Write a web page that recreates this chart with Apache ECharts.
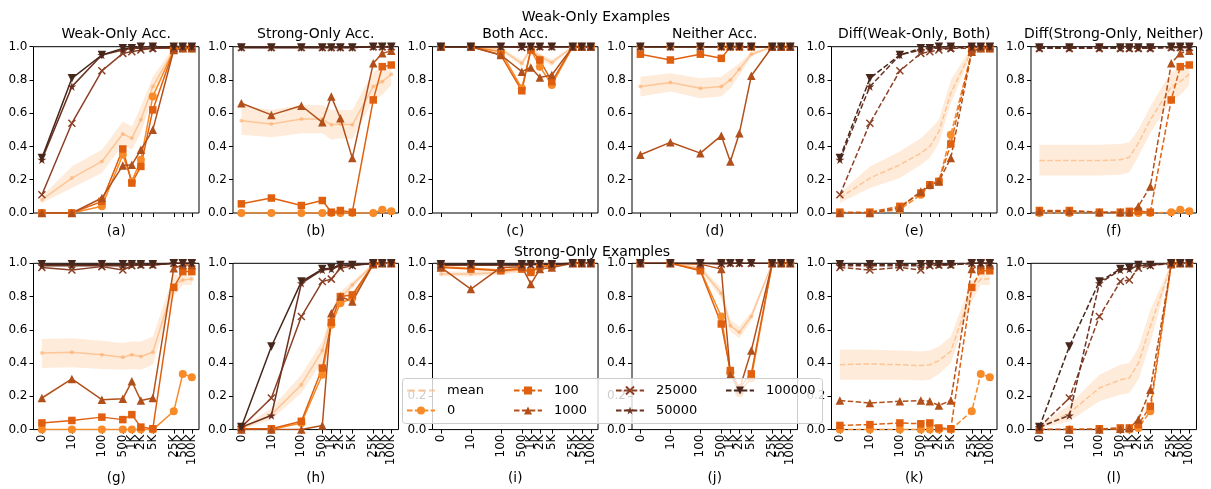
<!DOCTYPE html>
<html><head><meta charset="utf-8">
<script src="https://cdn.jsdelivr.net/npm/echarts@6/dist/echarts.min.js"></script>
<style>html,body{margin:0;padding:0;background:#fff}#c{width:1211px;height:489px}</style>
</head><body><div id="c"></div>
<script>
// ---- categories / labels ----
const steps = [0,10,100,500,1000,2000,5000,25000,50000,100000];
const stepLabels = ['0','10','100','500','1K','2K','5K','25K','50K','100K'];
const seriesNames = ['0','100','1000','25000','50000','100000'];
const colTitles = ['Weak-Only Acc.','Strong-Only Acc.','Both Acc.','Neither Acc.','Diff(Weak-Only, Both)','Diff(Strong-Only, Neither)'];
const rowTitles = ['Weak-Only Examples','Strong-Only Examples'];
const panelLabels = ['(a)','(b)','(c)','(d)','(e)','(f)','(g)','(h)','(i)','(j)','(k)','(l)'];
const yTicks = [0,0.2,0.4,0.6,0.8,1.0];

// ---- panel (a) ----
const a_mean = [0.08,0.21,0.31,0.475,0.45,0.56,0.76,0.98,0.99,0.99];
const a_lo   = [0.06,0.15,0.24,0.41,0.38,0.48,0.70,0.96,0.98,0.98];
const a_hi   = [0.10,0.28,0.38,0.55,0.52,0.64,0.82,1.0,1.0,1.0];
const a_0    = [0,0,0.04,0.35,0.19,0.32,0.70,0.98,0.99,0.99];
const a_100  = [0,0,0.07,0.385,0.18,0.28,0.62,0.98,0.99,0.99];
const a_1000 = [0,0,0.09,0.285,0.29,0.38,0.50,0.98,0.99,0.99];
const a_25000 = [0.11,0.54,0.855,0.96,0.97,0.98,0.99,0.99,1,1];
const a_50000 = [0.32,0.76,0.95,0.98,0.99,0.99,0.99,1,1,1];
const a_100000 = [0.33,0.81,0.95,0.99,0.99,1,1,1,1,1];
// ---- panel (b) ----
const b_mean = [0.555,0.535,0.565,0.565,0.53,0.535,0.53,0.76,0.79,0.835];
const b_lo   = [0.47,0.455,0.48,0.48,0.44,0.45,0.445,0.68,0.71,0.77];
const b_hi   = [0.645,0.62,0.65,0.65,0.62,0.62,0.62,0.85,0.87,0.89];
const b_0    = [0,0,0,0,0,0,0,0,0.02,0.01];
const b_100  = [0.055,0.09,0.045,0.075,0.005,0.015,0.005,0.68,0.88,0.89];
const b_1000 = [0.66,0.59,0.645,0.545,0.70,0.57,0.33,0.90,0.96,0.975];
const b_25000 = [0.995,0.995,0.995,0.995,0.995,0.995,0.995,1,1,1];
const b_50000 = [0.995,0.995,0.995,0.995,0.995,0.995,0.995,1,1,1];
const b_100000 = [0.995,0.995,0.995,0.995,0.995,0.995,0.995,1,1,1];
// ---- panel (c) ----
const c_mean = [1,1,0.985,0.90,0.985,0.94,0.905,1,1,1];
const c_lo   = [0.995,0.995,0.975,0.88,0.975,0.92,0.885,0.995,0.995,0.995];
const c_hi   = [1,1,0.995,0.92,0.995,0.96,0.925,1,1,1];
const c_0    = [1,1,0.97,0.75,0.98,0.88,0.77,1,1,1];
const c_100  = [1,1,0.95,0.735,0.98,0.92,0.79,1,1,1];
const c_1000 = [1,1,0.95,0.85,0.875,0.815,0.83,1,1,1];
const c_25000 = [1,1,1,0.995,1,1,1,1,1,1];
const c_50000 = [1,1,1,1,1,1,1,1,1,1];
const c_100000 = [1,1,1,1,1,1,1,1,1,1];
// ---- panel (d) ----
const d_mean = [0.76,0.785,0.75,0.76,0.80,0.865,0.955,1,1,1];
const d_lo   = [0.70,0.73,0.69,0.70,0.75,0.83,0.94,0.995,0.995,0.995];
const d_hi   = [0.82,0.84,0.81,0.82,0.86,0.90,0.97,1,1,1];
const d_0    = [1,1,1,1,1,1,1,1,1,1];
const d_100  = [0.955,0.92,0.955,0.93,1,1,1,1,1,1];
const d_1000 = [0.35,0.425,0.36,0.465,0.31,0.48,0.825,1,1,1];
const d_25000 = [1,1,1,1,1,1,1,1,1,1];
const d_50000 = [1,1,1,1,1,1,1,1,1,1];
const d_100000 = [1,1,1,1,1,1,1,1,1,1];
// ---- panel (e) ----
const e_mean = [0.09,0.21,0.29,0.36,0.40,0.49,0.72,0.98,0.99,0.99];
const e_lo   = [0.06,0.15,0.21,0.29,0.33,0.42,0.66,0.96,0.98,0.98];
const e_hi   = [0.12,0.28,0.37,0.45,0.50,0.56,0.80,1,1,1];
const e_0    = [0,0,0.02,0.11,0.165,0.19,0.47,0.97,0.99,0.99];
const e_100  = [0.005,0.005,0.04,0.12,0.17,0.19,0.415,0.975,0.99,0.99];
const e_1000 = [0,0,0.03,0.13,0.17,0.19,0.33,0.97,0.99,0.99];
const e_25000 = [0.11,0.54,0.855,0.96,0.97,0.98,0.99,0.99,1,1];
const e_50000 = [0.32,0.76,0.95,0.98,0.99,0.99,0.99,1,1,1];
const e_100000 = [0.33,0.81,0.95,0.99,0.99,1,1,1,1,1];
// ---- panel (f) ----
const f_mean = [0.315,0.315,0.315,0.32,0.335,0.42,0.56,0.76,0.79,0.835];
const f_lo   = [0.225,0.225,0.225,0.23,0.245,0.34,0.48,0.68,0.71,0.77];
const f_hi   = [0.41,0.41,0.41,0.415,0.425,0.50,0.64,0.85,0.87,0.89];
const f_0    = [0,0,0,0,0,0,0,0.005,0.02,0.01];
const f_100  = [0.015,0.015,0.005,0.005,0.01,0.01,0.005,0.68,0.88,0.89];
const f_1000 = [0.01,0.01,0.005,0.005,0.005,0.04,0.16,0.90,0.96,0.975];
const f_25000 = [0.99,0.99,0.99,0.99,0.99,0.99,0.99,0.995,0.995,0.995];
const f_50000 = [0.99,0.99,0.99,0.99,0.99,0.99,0.99,0.995,0.995,0.995];
const f_100000 = [0.995,0.995,0.995,0.995,0.995,0.995,0.995,1,1,1];
// ---- panel (g) ----
const g_mean = [0.46,0.465,0.45,0.435,0.45,0.44,0.465,0.87,0.90,0.905];
const g_lo   = [0.37,0.375,0.365,0.36,0.365,0.36,0.39,0.80,0.87,0.87];
const g_hi   = [0.545,0.55,0.535,0.52,0.53,0.53,0.56,0.93,0.93,0.935];
const g_0    = [0,0,0,0,0,0,0,0.11,0.335,0.315];
const g_100  = [0.04,0.055,0.075,0.06,0.09,0.015,0.005,0.855,0.95,0.95];
const g_1000 = [0.19,0.305,0.18,0.185,0.29,0.175,0.19,0.97,0.99,0.99];
const g_25000 = [0.975,0.96,0.98,0.96,0.985,0.99,0.99,1,1,1];
const g_50000 = [0.985,0.985,0.985,0.985,0.99,0.99,0.99,1,1,1];
const g_100000 = [0.995,0.995,0.995,0.995,0.995,0.995,0.995,1,1,1];
// ---- panel (h) ----
const h_mean = [0.005,0.09,0.27,0.475,0.67,0.79,0.87,0.995,1,1];
const h_lo   = [0,0.06,0.22,0.41,0.63,0.76,0.85,0.99,0.995,0.995];
const h_hi   = [0.01,0.13,0.33,0.53,0.71,0.83,0.89,1,1,1];
const h_0    = [0,0,0.04,0.33,0.63,0.76,0.79,0.995,1,1];
const h_100  = [0.005,0.005,0.05,0.37,0.645,0.80,0.81,0.995,1,1];
const h_1000 = [0,0,0,0.025,0.70,0.80,0.77,0.995,1,1];
const h_25000 = [0.015,0.19,0.68,0.89,0.905,0.97,0.985,1,1,1];
const h_50000 = [0.015,0.085,0.88,0.96,0.965,0.985,0.99,1,1,1];
const h_100000 = [0.015,0.50,0.89,0.965,0.97,0.99,0.99,1,1,1];
// ---- panel (i) ----
const i_mean = [0.935,0.935,0.945,0.96,0.955,0.975,0.98,1,1,1];
const i_lo   = [0.92,0.92,0.93,0.945,0.94,0.965,0.97,0.995,0.995,0.995];
const i_hi   = [0.95,0.95,0.96,0.975,0.97,0.985,0.99,1,1,1];
const i_0    = [0.98,0.97,0.96,0.97,0.95,0.98,0.99,1,1,1];
const i_100  = [0.975,0.965,0.955,0.965,0.945,0.98,0.985,1,1,1];
const i_1000 = [0.975,0.845,0.975,0.98,0.875,0.965,0.975,1,1,1];
const i_25000 = [0.99,0.99,0.99,0.99,0.99,0.995,0.995,1,1,1];
const i_50000 = [0.99,0.99,0.99,0.99,0.995,0.995,0.995,1,1,1];
const i_100000 = [0.995,0.995,0.995,0.995,0.995,0.995,0.995,1,1,1];
// ---- panel (j) ----
const j_mean = [1,1,0.97,0.82,0.625,0.585,0.68,1,1,1];
const j_lo   = [0.995,0.995,0.955,0.79,0.59,0.55,0.655,0.995,0.995,0.995];
const j_hi   = [1,1,0.985,0.85,0.66,0.62,0.705,1,1,1];
const j_0    = [1,1,0.96,0.68,0.34,0.22,0.31,1,1,1];
const j_100  = [1,1,0.955,0.635,0.355,0.25,0.335,1,1,1];
const j_1000 = [1,1,0.995,0.965,0.33,0.24,0.475,1,1,1];
const j_25000 = [1,1,1,0.995,1,1,1,1,1,1];
const j_50000 = [1,1,1,1,1,1,1,1,1,1];
const j_100000 = [1,1,1,1,1,1,1,1,1,1];
// ---- panel (k) ----
const k_mean = [0.39,0.395,0.39,0.385,0.39,0.415,0.47,0.84,0.905,0.905];
const k_lo   = [0.30,0.30,0.30,0.295,0.30,0.335,0.40,0.77,0.87,0.87];
const k_hi   = [0.48,0.48,0.475,0.47,0.475,0.50,0.56,0.90,0.93,0.935];
const k_0    = [0,0,0,0,0,0,0,0.11,0.335,0.315];
const k_100  = [0.025,0.03,0.04,0.035,0.04,0.01,0.005,0.855,0.955,0.955];
const k_1000 = [0.175,0.16,0.17,0.175,0.17,0.145,0.175,0.965,0.99,0.99];
const k_25000 = [0.975,0.96,0.975,0.96,0.985,0.99,0.99,1,1,1];
const k_50000 = [0.985,0.985,0.985,0.985,0.99,0.99,0.99,1,1,1];
const k_100000 = [0.995,0.995,0.995,0.995,0.995,0.995,0.995,1,1,1];
// ---- panel (l) ----
const l_mean = [0.01,0.10,0.25,0.30,0.31,0.40,0.62,0.99,1,1];
const l_lo   = [0.005,0.05,0.17,0.21,0.22,0.30,0.52,0.985,0.995,0.995];
const l_hi   = [0.02,0.15,0.33,0.39,0.40,0.49,0.72,1,1,1];
const l_0    = [0,0,0,0,0,0.01,0.11,0.995,1,1];
const l_100  = [0,0,0.005,0.01,0.01,0.03,0.14,0.995,1,1];
const l_1000 = [0,0,0,0.005,0.01,0.06,0.24,0.995,1,1];
const l_25000 = [0.015,0.19,0.68,0.89,0.90,0.97,0.985,1,1,1];
const l_50000 = [0.015,0.085,0.88,0.96,0.965,0.985,0.99,1,1,1];
const l_100000 = [0.015,0.50,0.89,0.965,0.97,0.99,0.99,1,1,1];

const panels = [
  {mean:a_mean, lo:a_lo, hi:a_hi, vals:[a_0,a_100,a_1000,a_25000,a_50000,a_100000]},
  {mean:b_mean, lo:b_lo, hi:b_hi, vals:[b_0,b_100,b_1000,b_25000,b_50000,b_100000]},
  {mean:c_mean, lo:c_lo, hi:c_hi, vals:[c_0,c_100,c_1000,c_25000,c_50000,c_100000]},
  {mean:d_mean, lo:d_lo, hi:d_hi, vals:[d_0,d_100,d_1000,d_25000,d_50000,d_100000]},
  {mean:e_mean, lo:e_lo, hi:e_hi, vals:[e_0,e_100,e_1000,e_25000,e_50000,e_100000]},
  {mean:f_mean, lo:f_lo, hi:f_hi, vals:[f_0,f_100,f_1000,f_25000,f_50000,f_100000]},
  {mean:g_mean, lo:g_lo, hi:g_hi, vals:[g_0,g_100,g_1000,g_25000,g_50000,g_100000]},
  {mean:h_mean, lo:h_lo, hi:h_hi, vals:[h_0,h_100,h_1000,h_25000,h_50000,h_100000]},
  {mean:i_mean, lo:i_lo, hi:i_hi, vals:[i_0,i_100,i_1000,i_25000,i_50000,i_100000]},
  {mean:j_mean, lo:j_lo, hi:j_hi, vals:[j_0,j_100,j_1000,j_25000,j_50000,j_100000]},
  {mean:k_mean, lo:k_lo, hi:k_hi, vals:[k_0,k_100,k_1000,k_25000,k_50000,k_100000]},
  {mean:l_mean, lo:l_lo, hi:l_hi, vals:[l_0,l_100,l_1000,l_25000,l_50000,l_100000]}
];

// ---- styles ----
const FONT = 'DejaVu Sans';
const meanColor = 'rgba(253,174,107,0.6)';
const bandColor = 'rgba(253,174,107,0.25)';
const colors = {'0':'#f88a27','100':'#e0600f','1000':'#b2501b','25000':'#8b4127','50000':'#6b3221','100000':'#47271c'};
const starPath = 'path://M50,0L61.2,34.6L97.6,34.6L68.1,55.9L79.4,90.5L50,69L20.6,90.5L31.9,55.9L2.4,34.6L38.8,34.6Z';
const symbols = {'0':'circle','100':'rect','1000':'triangle','25000':'path://M0,0L10,10M0,10L10,0','50000':starPath,'100000':'triangle'};
const symSizes = {'0':8,'100':7.5,'1000':8.5,'25000':7,'50000':9,'100000':8.5};
const symRot = {'0':0,'100':0,'1000':0,'25000':0,'50000':0,'100000':180};
const dashPattern = [5.5,2.4];
const meanLegendIcon = 'path://M0,4h8v2h-8zM11,4h8v2h-8zM22,4h6v2h-6z';

const xpos = steps.map(s => Math.log10(Math.max(s,1)));
function labelFor(v){
  for (let i=0;i<xpos.length;i++) if (Math.abs(xpos[i]-v) < 1e-6) return stepLabels[i];
  return '';
}
// labels split over two axes so the library's max-label overlap rule keeps them all
const labelPosA = xpos.filter((v,i) => i !== 8);
const labelPosB = [xpos[8]];
const GL = 33.5, GSTEP = 199.5, GW = 165.5, GH = 166.3;
const rowTop = [46.7, 263.3];
const XMIN = -0.28, XMAX = 5.24;

const grids = [], xAxes = [], extraX = [], yAxes = [], series = [], graphics = [];
function xLabelStyle(vals){
  return {show:true, customValues:vals, rotate:90, margin:5, fontSize:12, color:'#000', fontFamily:FONT,
    showMaxLabel:true, showMinLabel:true, hideOverlap:false, formatter:labelFor};
}
for (let gi=0; gi<12; gi++){
  const row = Math.floor(gi/6), col = gi%6;
  grids.push({left: GL + col*GSTEP, top: rowTop[row], width: GW, height: GH,
    show:true, borderColor:'#000', borderWidth:1, backgroundColor:'transparent', containLabel:false});
  const xl = xLabelStyle(labelPosA); xl.show = row===1;
  xAxes.push({type:'value', gridIndex:gi, position:'bottom', min:XMIN, max:XMAX,
    axisLine:{show:false,onZero:false}, splitLine:{show:false},
    axisTick:{show:true, customValues:xpos, length:4, lineStyle:{color:'#000',width:1}},
    axisLabel:xl});
  if (row===1) extraX.push({type:'value', gridIndex:gi, position:'bottom', min:XMIN, max:XMAX,
    axisLine:{show:false,onZero:false}, splitLine:{show:false}, axisTick:{show:false},
    axisLabel:xLabelStyle(labelPosB)});
  yAxes.push({type:'value', gridIndex:gi, min:0, max:1, interval:0.2,
    axisLine:{show:false,onZero:false}, splitLine:{show:false},
    axisTick:{show:true, length:4, lineStyle:{color:'#000',width:1}},
    axisLabel:{fontSize:12, color:'#000', fontFamily:FONT, margin:6, formatter: v => v.toFixed(1)}});
  const cx = GL + col*GSTEP + GW/2;
  if (row===0) graphics.push({type:'text', x:cx, y:34, style:{text:colTitles[col], font:'14px '+FONT, fill:'#000', textAlign:'center', textVerticalAlign:'middle'}});
  graphics.push({type:'text', x:cx, y: row===0 ? 231 : 478, style:{text:panelLabels[gi], font:'13.5px '+FONT, fill:'#000', textAlign:'center', textVerticalAlign:'middle'}});
}
graphics.push({type:'text', x:596, y:17, style:{text:rowTitles[0], font:'14px '+FONT, fill:'#000', textAlign:'center', textVerticalAlign:'middle'}});
graphics.push({type:'text', x:592, y:252, style:{text:rowTitles[1], font:'14px '+FONT, fill:'#000', textAlign:'center', textVerticalAlign:'middle'}});
graphics.push({type:'rect', z:50, shape:{x:402.5, y:378.5, width:420, height:45, r:3}, style:{fill:'rgba(255,255,255,0.8)', stroke:'#cccccc', lineWidth:1}});

function xy(arr){ return arr.map((v,i) => [xpos[i], v]); }

// Diff panels first so legend icons take the dashed style
const order = [4,5,10,11,0,1,2,3,6,7,8,9];
order.forEach(gi => {
  const p = panels[gi];
  const dashed = (gi%6) >= 4;
  const ltype = dashed ? dashPattern : 'solid';
  // shaded band between lo and hi, drawn as one polygon through the axis scales
  series.push({type:'custom', xAxisIndex:gi, yAxisIndex:gi, silent:true, z:1, clip:true,
    data: p.lo.map((v,i) => [xpos[i], v, p.hi[i]]),
    encode:{x:0, y:[1,2]},
    renderItem: (params, api) => {
      if (params.dataIndex !== 0) return null;
      const top = p.hi.map((v,i) => api.coord([xpos[i], v]));
      const bot = p.lo.map((v,i) => api.coord([xpos[i], v])).reverse();
      return {type:'polygon', shape:{points: top.concat(bot)}, style:{fill:bandColor}};
    }});
  series.push({type:'line', name:'mean', xAxisIndex:gi, yAxisIndex:gi, data:xy(p.mean),
    symbol: dashed ? 'none' : 'circle', symbolSize:4, showSymbol: !dashed,
    lineStyle:{color:meanColor, width:1.5, type:ltype}, itemStyle:{color:meanColor}, z:2});
  seriesNames.forEach((n, k) => {
    const c = colors[n];
    const isX = n === '25000';
    series.push({type:'line', name:n, xAxisIndex:gi, yAxisIndex:gi, data:xy(p.vals[k]),
      symbol:symbols[n], symbolSize:symSizes[n], symbolRotate:symRot[n], symbolKeepAspect:true,
      lineStyle:{color:c, width:1.5, type:ltype},
      itemStyle:{color: isX ? 'rgba(0,0,0,0)' : c, borderColor:c, borderWidth: isX ? 1.5 : 0},
      z:3});
  });
});

const legendBase = {orient:'vertical', itemWidth:28, itemHeight:10, itemGap:7, padding:0, selectedMode:false, z:60,
  textStyle:{fontFamily:FONT, fontSize:13, color:'#000', padding:[0,0,0,7]}};
const legends = [
  Object.assign({}, legendBase, {data:[{name:'mean', icon:meanLegendIcon, itemStyle:{color:meanColor}}, '0'], left:406, top:384}),
  Object.assign({}, legendBase, {data:['100','1000'], left:513, top:384}),
  Object.assign({}, legendBase, {data:['25000','50000'], left:615, top:384}),
  Object.assign({}, legendBase, {data:['100000'], left:725, top:384})
];

const chart = echarts.init(document.getElementById('c'), null, {renderer:'canvas'});
chart.setOption({
  animation:false,
  textStyle:{fontFamily:FONT},
  grid:grids, xAxis:xAxes.concat(extraX), yAxis:yAxes, series:series,
  legend:legends,
  graphic:{elements:graphics}
});
</script></body></html>
